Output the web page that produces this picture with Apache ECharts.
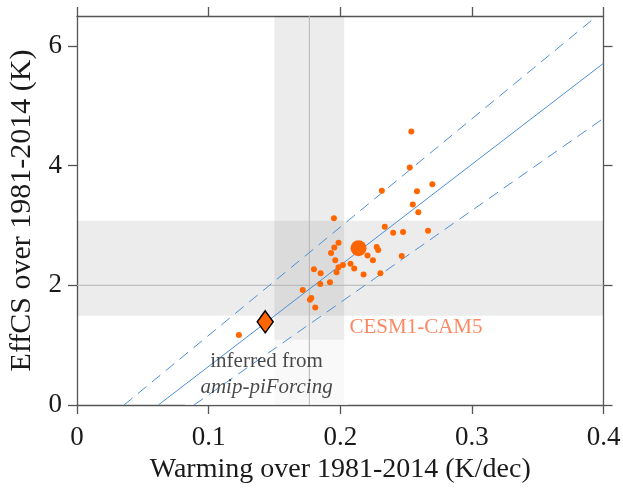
<!DOCTYPE html>
<html><head><meta charset="utf-8">
<script src="https://cdn.jsdelivr.net/npm/echarts@6/dist/echarts.min.js"></script>
<style>html,body{margin:0;padding:0;background:#fff}#c{width:623px;height:490px}</style>
</head><body><div id="c"></div>
<script>
// ---- data ----
var xTicks = [0, 0.1, 0.2, 0.3, 0.4];
var yTicks = [0, 2, 4, 6];
var modelPoints = [
  [0.254,4.57],[0.2528,3.97],[0.270,3.69],[0.2316,3.58],[0.2583,3.57],[0.2551,3.35],
  [0.2593,3.22],[0.1952,3.12],[0.2338,2.98],[0.2402,2.88],[0.2477,2.89],[0.2667,2.91],
  [0.1987,2.71],[0.1955,2.63],[0.2277,2.64],[0.2288,2.59],[0.193,2.54],[0.1962,2.42],
  [0.2207,2.50],[0.2248,2.42],[0.202,2.34],[0.1987,2.30],[0.2078,2.36],[0.2106,2.28],
  [0.2467,2.49],[0.180,2.27],[0.1851,2.20],[0.1972,2.22],[0.2177,2.18],[0.2305,2.20],
  [0.1848,2.02],[0.1922,2.05],[0.1715,1.92],[0.178,1.79],[0.177,1.76],[0.181,1.63],
  [0.123,1.17]
];
var cesmPoint = [[0.2139, 2.62]];
var inferredPoint = [[0.143, 1.39]];
var fitLine = [[0.0618, 0], [0.4, 5.71]];
var upperLine = [[0.0357, 0], [0.395, 6.5]];
var lowerLine = [[0.0889, 0], [0.4, 4.79]];
var obsWarming = 0.1765, obsWarmingRange = [0.150, 0.203];
var obsEffCS = 2.0, obsEffCSRange = [1.49, 3.08];
var xExtent = [0, 0.4], yExtent = [0, 6.5];

var FONT = 'Liberation Serif';
var TXT = '#1a1a1a';
var BLUE = '#4d8fd6';
var ORANGE = '#ff6600';
var axisLineStyle = {color: '#555', width: 1.3};
var tickStyle = {show: true, inside: false, length: 9, lineStyle: {color: '#555', width: 1.3}};

var chart = echarts.init(document.getElementById('c'));
var option = {
  animation: false,
  grid: {left: 77, right: 19.5, top: 16, bottom: 85, outerBoundsMode: 'none', containLabel: false},
  xAxis: [
    {type: 'value', min: xExtent[0], max: xExtent[1], interval: 0.1, position: 'bottom',
     name: 'Warming over 1981-2014 (K/dec)', nameLocation: 'middle', nameGap: 51,
     nameTextStyle: {fontFamily: FONT, fontSize: 28, color: TXT},
     axisLine: {show: true, onZero: false, lineStyle: axisLineStyle}, axisTick: tickStyle,
     axisLabel: {fontFamily: FONT, fontSize: 27, color: TXT, margin: 19, customValues: xTicks,
       formatter: function (v) { return String(Math.round(v * 10) / 10); }},
     splitLine: {show: false}},
    {type: 'value', min: xExtent[0], max: xExtent[1], interval: 0.1, position: 'top',
     axisLine: {show: true, onZero: false, lineStyle: axisLineStyle}, axisTick: tickStyle,
     axisLabel: {show: false}, splitLine: {show: false}}
  ],
  yAxis: [
    {type: 'value', min: yExtent[0], max: yExtent[1], interval: 2, position: 'left',
     name: 'EffCS over 1981-2014 (K)', nameLocation: 'middle', nameGap: 34, nameRotate: 90,
     nameTextStyle: {fontFamily: FONT, fontSize: 30, color: TXT},
     axisLine: {show: true, onZero: false, lineStyle: axisLineStyle},
     axisTick: Object.assign({}, tickStyle, {customValues: yTicks}),
     axisLabel: {fontFamily: FONT, fontSize: 27, color: TXT, margin: 15, customValues: yTicks},
     splitLine: {show: false}},
    {type: 'value', min: yExtent[0], max: yExtent[1], interval: 2, position: 'right',
     axisLine: {show: true, onZero: false, lineStyle: axisLineStyle},
     axisTick: Object.assign({}, tickStyle, {customValues: yTicks}),
     axisLabel: {show: false}, splitLine: {show: false}}
  ],
  series: [
    {type: 'line', data: [], z: 1, silent: true,
     markArea: {silent: true, itemStyle: {color: 'rgba(0,0,0,0.075)'},
       data: [
         [{xAxis: obsWarmingRange[0]}, {xAxis: obsWarmingRange[1]}],
         [{yAxis: obsEffCSRange[0]}, {yAxis: obsEffCSRange[1]}]
       ]}
    },
    {type: 'line', z: 1, symbol: 'none', silent: true, lineStyle: {color: '#b5b5b5', width: 1},
     data: [[obsWarming, yExtent[0]], [obsWarming, yExtent[1]]]},
    {type: 'line', z: 1, symbol: 'none', silent: true, lineStyle: {color: '#b5b5b5', width: 1},
     data: [[xExtent[0], obsEffCS], [xExtent[1], obsEffCS]]},
    {type: 'line', data: fitLine, z: 2, symbol: 'none', lineStyle: {color: BLUE, width: 1}},
    {type: 'line', data: upperLine, z: 2, symbol: 'none', lineStyle: {color: BLUE, width: 1, type: [11, 7]}},
    {type: 'line', data: lowerLine, z: 2, symbol: 'none', lineStyle: {color: BLUE, width: 1, type: [11, 7]}},
    {type: 'line', data: [], z: 3, silent: true,
     markArea: {silent: true, itemStyle: {color: 'rgba(255,255,255,0.65)'},
       data: [[{coord: [0.082, 1.09]}, {coord: [0.206, 0]}]]}},
    {type: 'scatter', data: modelPoints, z: 4, symbol: 'circle', symbolSize: 6,
     itemStyle: {color: ORANGE, opacity: 1}},
    {type: 'scatter', data: cesmPoint, z: 5, symbol: 'circle', symbolSize: 16,
     itemStyle: {color: ORANGE, opacity: 1}},
    {type: 'scatter', data: inferredPoint, z: 6, symbol: 'diamond', symbolSize: [16, 22],
     itemStyle: {color: ORANGE, opacity: 1, borderColor: '#000', borderWidth: 1.5}},
    {type: 'scatter', z: 7, symbolSize: 0, silent: true,
     data: [
       {value: [0.207, 1.3], label: {show: true, position: 'right', distance: 0,
         formatter: 'CESM1-CAM5', fontFamily: FONT, fontSize: 21, color: '#f96a3c'}},
       {value: [0.144, 0.72], label: {show: true, position: 'inside',
         formatter: 'inferred from', fontFamily: FONT, fontSize: 21, color: TXT}},
       {value: [0.144, 0.30], label: {show: true, position: 'inside',
         formatter: 'amip-piForcing', fontFamily: FONT, fontSize: 21, fontStyle: 'italic', color: TXT}}
     ]}
  ]
};
chart.setOption(option);
</script></body></html>
